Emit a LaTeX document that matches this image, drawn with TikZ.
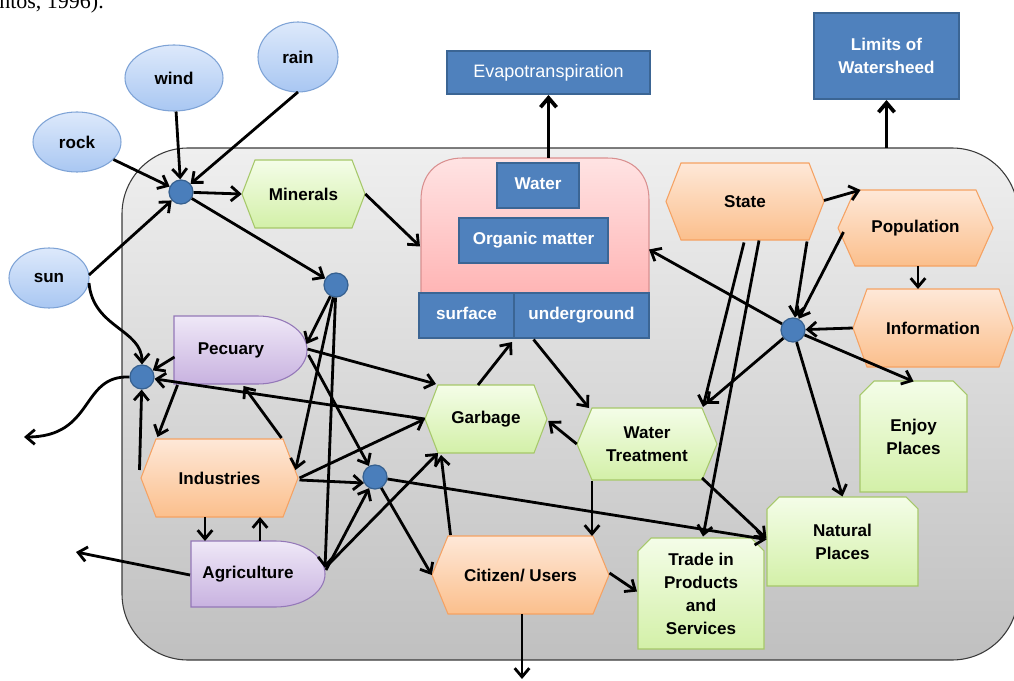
\documentclass[tikz,border=0pt]{standalone}
\usepackage{fontspec}
\setmainfont{Liberation Sans}
\newfontfamily\capfont{Liberation Serif}
\usetikzlibrary{arrows.meta,calc,shapes.geometric}

\definecolor{ellT}{HTML}{DDE9FB}
\definecolor{ellBot}{HTML}{A9C7F2}
\definecolor{ellB}{HTML}{7EA3D6}
\definecolor{dotF}{HTML}{4A7EBB}
\definecolor{dotB}{HTML}{36608F}
\definecolor{grT}{HTML}{F4FDE8}
\definecolor{grBot}{HTML}{D3F0A8}
\definecolor{grB}{HTML}{A6C86A}
\definecolor{orT}{HTML}{FEE8D8}
\definecolor{orBot}{HTML}{FBBF8C}
\definecolor{orB}{HTML}{F5A263}
\definecolor{puT}{HTML}{EFE8F7}
\definecolor{puBot}{HTML}{C8B2E0}
\definecolor{puB}{HTML}{9478B8}
\definecolor{blF}{HTML}{4F81BD}
\definecolor{blB}{HTML}{3B6594}
\definecolor{pkT}{HTML}{FFE3E3}
\definecolor{pkBot}{HTML}{FFB5B5}
\definecolor{pkB}{HTML}{D99090}
\definecolor{bgT}{HTML}{EFEFEF}
\definecolor{bgBot}{HTML}{C0C0C0}
\definecolor{bgB}{HTML}{3A3A3A}

\tikzset{
  lbl/.style={font=\bfseries\fontsize{12.8}{17.3}\selectfont, text=black, align=center, inner sep=0pt},
  ell/.style={ellipse, draw=ellB, line width=0.8pt, top color=ellT, bottom color=ellBot, inner sep=0pt,
    font=\bfseries\fontsize{12.8}{17.3}\selectfont},
  dot/.style={circle, draw=dotB, fill=dotF, line width=0.9pt, minimum size=18pt, inner sep=0pt},
  grst/.style={draw=grB, line width=0.8pt, top color=grT, bottom color=grBot},
  orst/.style={draw=orB, line width=0.8pt, top color=orT, bottom color=orBot},
  pust/.style={draw=puB, line width=0.8pt, top color=puT, bottom color=puBot},
  pkst/.style={draw=pkB, line width=0.8pt, top color=pkT, bottom color=pkBot},
  bgst/.style={draw=bgB, line width=0.8pt, top color=bgT, bottom color=bgBot, rounded corners=49.5pt},
  bluebox/.style={draw=blB, line width=1.5pt, fill=blF, text=white, inner sep=0pt, align=center,
    font=\bfseries\fontsize{12.8}{17.3}\selectfont},
  barbox/.style={bluebox, text height=9.2pt, text depth=2.6pt},
  box0/.style={inner sep=0pt, outer sep=0pt},
  arr/.style={-{Straight Barb[length=6.5pt,width=11pt]}, line width=2.1pt, line join=round, black},
  bigarr/.style={-{Straight Barb[length=7pt,width=12pt]}, line width=2.8pt, line join=round, black},
}

\newcommand\myhex[8]{%
  \path[#7] ({#2-#4/2},{#3}) -- ({#2-#4/2+#6},{#3-#5/2}) -- ({#2+#4/2-#6},{#3-#5/2}) -- ({#2+#4/2},{#3}) -- ({#2+#4/2-#6},{#3+#5/2}) -- ({#2-#4/2+#6},{#3+#5/2}) -- cycle;
  \node[lbl, minimum width={#4*0.75pt}, minimum height={#5*0.75pt}] (#1) at (#2,#3) {#8};%
}
\newcommand\mysnip[8]{%
  \path[#7] ({#2-#4/2},{#3+#5/2}) -- ({#2-#4/2},{#3-#5/2+#6}) -- ({#2-#4/2+#6},{#3-#5/2}) -- ({#2+#4/2-#6},{#3-#5/2}) -- ({#2+#4/2},{#3-#5/2+#6}) -- ({#2+#4/2},{#3+#5/2}) -- cycle;
  \node[lbl, minimum width={#4*0.75pt}, minimum height={#5*0.75pt}] (#1) at (#2,#3) {#8};%
}
\newcommand\mydee[8]{%
  \pgfmathsetmacro\deeA{#4-0.37*(#4-#2)}%
  \pgfmathsetmacro\deeB{\deeA+0.552*0.37*(#4-#2)}%
  \pgfmathsetmacro\deeC{(#3+#5)/2}%
  \pgfmathsetmacro\deeD{0.552*(#5-#3)/2}%
  \path[#6] (#2,#3) -- (\deeA,#3) .. controls (\deeB,#3) and (#4,{\deeC-\deeD}) .. (#4,\deeC) .. controls (#4,{\deeC+\deeD}) and (\deeB,#5) .. (\deeA,#5) -- (#2,#5) -- cycle;
  \node[box0, minimum width={(#4-#2)*0.75pt}, minimum height={(#5-#3)*0.75pt}] (#1) at ({(#2+#4)/2},\deeC) {};
  \node[lbl] (#1-text) at (#8,\deeC) {#7};%
}

\begin{document}
\begin{tikzpicture}[x=0.75pt,y=-0.75pt]
\useasboundingbox (0,0) rectangle (1014,681);
\clip (0,0) rectangle (1014,681);

% caption fragment
\node[anchor=base west, inner sep=0pt, font=\capfont\fontsize{16.5}{18}\selectfont] (cap) at (-1,8.5) {ntos, 1996).};

% background
\path[bgst] (122,148) rectangle (1018,660);
\node[box0, minimum width={896*0.75pt}, minimum height={512*0.75pt}] (bg) at (570,404) {};

% ellipses
\node[ell, minimum width=66pt, minimum height=45pt] (rock) at (77,142) {rock};
\node[ell, minimum width=73.5pt, minimum height=49.5pt] (wind) at (174,78) {wind};
\node[ell, minimum width=60pt, minimum height=52.5pt] (rain) at (298,57) {rain};
\node[ell, minimum width=60pt, minimum height=45pt] (sun) at (49,278) {sun};

% top boxes
\node[bluebox, font=\fontsize{13.5}{16}\selectfont, minimum width=152.25pt, minimum height=32.25pt] (evap) at (548.5,72.5) {Evapotranspiration};
\node[bluebox, minimum width=108.75pt, minimum height=64.5pt] (limits) at (886.5,56) {Limits of\\Watersheed};

% water container
\path[pkst] (421,293) -- (421,200) .. controls (421,175) and (436,158) .. (463,158) -- (607,158) .. controls (634,158) and (649,175) .. (649,200) -- (649,293) -- cycle;
\node[box0, minimum width={228*0.75pt}, minimum height={135*0.75pt}] (cont) at (535,225.5) {};
\node[barbox, minimum width=61.5pt, minimum height=33.75pt] (waterb) at (538,185.5) {Water};
\node[barbox, minimum width=111.75pt, minimum height=33.75pt] (organic) at (533.5,240.5) {Organic matter};
\node[barbox, minimum width=71.25pt, minimum height=33.75pt] (surface) at (466.5,315.5) {surface};
\node[barbox, minimum width=101.25pt, minimum height=33.75pt] (under) at (581.5,315.5) {underground};

% hexagons
\myhex{minerals}{303.5}{194}{123}{68}{13}{grst}{Minerals}
\myhex{garbage}{486}{419}{122}{68}{13}{grst}{Garbage}
\myhex{wt}{647}{444}{140}{72}{15}{grst}{Water\\Treatment}
\myhex{citizen}{520.5}{575}{177}{78}{16}{orst}{Citizen/ Users}
\myhex{industries}{219.5}{478}{157}{78}{15}{orst}{Industries}
\myhex{state}{745}{201.5}{158}{77}{15}{orst}{State}
\myhex{population}{915.5}{228}{155}{76}{17}{orst}{Population}
\myhex{information}{933}{328}{160}{78}{14}{orst}{Information}

% snipped boxes
\mysnip{enjoy}{913.5}{436.5}{107}{111}{14}{grst}{Enjoy\\Places}
\mysnip{natural}{842.5}{541.5}{151}{89}{12}{grst}{Natural\\Places}
\mysnip{trade}{701}{593.5}{126}{111}{13}{grst}{Trade in\\Products\\and\\Services}

% D shapes
\mydee{pecuary}{174}{316}{307}{384}{pust}{Pecuary}{231}
\mydee{agriculture}{191}{541}{325}{607}{pust}{Agriculture}{248}

% junctions
\node[dot] (j1) at (181,192) {};
\node[dot] (j2) at (336,285) {};
\node[dot] (j3) at (142,377) {};
\node[dot] (j4) at (375,477) {};
\node[dot] (j5) at (793,330) {};

% free ends
\coordinate (out1) at (24,437);
\coordinate (out2) at (76,552);
\coordinate (out3) at (522,679);

% connectors
\draw[arr] (rock) -- (j1);
\draw[arr] (wind) -- (j1);
\draw[arr] ($(rain)+(0,35)$) -- (j1);
\draw[arr] ($(sun)+(40,-3)$) -- (j1);
\draw[arr] (j1) -- (minerals.west);
\draw[arr] (j1) -- (j2);
\draw[arr] ($(sun)+(40,5)$) .. controls ($(sun)+(44,50)$) and ($(j3)+(0,-48)$) .. (j3.north);
\draw[arr] (j3.west) .. controls ($(j3)+(-62,-2)$) and ($(j3)+(-47,60)$) .. (out1);
\draw[arr] ($(pecuary)+(-66,7)$) -- (j3);
\draw[arr] (garbage.west) -- (j3);
\draw[arr] ($(industries)+(-80,-8)$) -- (j3);
\draw[arr] ($(pecuary)+(-63,35)$) -- ($(industries)+(-62,-41)$);
\draw[arr] ($(industries)+(62,-40)$) -- ($(pecuary)+(3,36)$);
\draw[arr] (j2) -- ($(pecuary)+(66,-6)$);
\draw[arr] (j2) -- ($(industries)+(76,-8)$);
\draw[arr] (j2) -- ($(agriculture)+(67,-6)$);
\draw[arr] ($(pecuary)+(67,-1)$) -- ($(garbage)+(-50,-35)$);
\draw[arr] ($(pecuary)+(68,5)$) -- (j4);
\draw[arr] ($(industries)+(80,0)$) -- (garbage.west);
\draw[arr] ($(industries)+(80,2)$) -- ($(j4)+(-11,6)$);
\draw[arr] ($(agriculture)+(68,-4)$) -- (j4);
\draw[arr] ($(agriculture)+(68,-7)$) -- ($(garbage)+(-48,34)$);
\draw[arr] ($(citizen)+(-70,-40)$) -- ($(garbage)+(-45,36)$);
\draw[arr] (j4) -- (citizen.west);
\draw[arr] (j4) -- ($(natural)+(-76,-2)$);
\draw[arr] ($(industries)+(-14.5,39)$) -- ($(agriculture)+(-53,-33)$);
\draw[arr] ($(agriculture)+(2,-33)$) -- ($(industries)+(40.5,39)$);
\draw[arr] ($(agriculture)+(-68,1)$) -- (out2);
\draw[arr] ($(citizen)+(1.5,39)$) -- (out3);
\draw[arr] ($(citizen)+(89,-2)$) -- ($(trade)+(-64,-2)$);
\draw[arr] (minerals.east) -- ($(cont)+(-115,21)$);
\draw[bigarr] (cont.north -| evap.south) -- (evap.south);
\draw[bigarr] (bg.north -| limits.south) -- (limits.south);
\draw[arr] ($(garbage)+(-8,-34)$) -- ($(under.south west)+(-1,3)$);
\draw[arr] ($(under)+(-48,24)$) -- ($(wt)+(-58,-36)$);
\draw[arr] (wt.west) -- ($(garbage.east)+(1,2)$);
\draw[arr] ($(wt)+(-55,37)$) -- ($(citizen)+(71.5,-39)$);
\draw[arr] ($(wt)+(55,34)$) -- ($(natural)+(-76,-3)$);
\draw[arr] ($(state)+(79,-1)$) -- ($(population)+(-55,-38)$);
\draw[arr] ($(state)+(-1,41)$) -- ($(wt)+(56,-37)$);
\draw[arr] ($(state)+(14,39)$) -- ($(trade)+(2,-57)$);
\draw[arr] ($(state)+(62,40)$) -- (j5);
\draw[arr] ($(population)+(-72,4)$) -- (j5);
\draw[arr] ($(population)+(2.5,38)$) -- ($(information)+(-15,-39)$);
\draw[arr] (information.west) -- (j5);
\draw[arr] (j5) -- ($(enjoy)+(0,-55)$);
\draw[arr] (j5) -- ($(cont)+(114,24)$);
\draw[arr] (j5) -- ($(wt)+(59,-40)$);
\draw[arr] (j5) -- ($(natural)+(0,-45)$);
\end{tikzpicture}
\end{document}
